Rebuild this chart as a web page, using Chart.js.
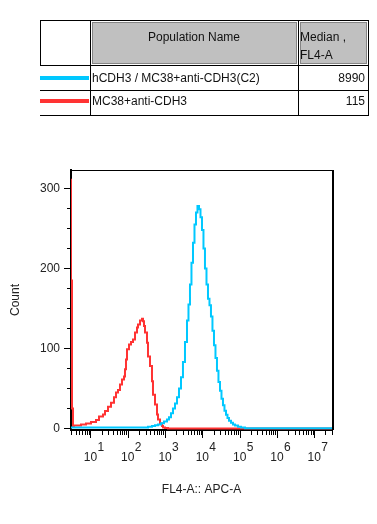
<!DOCTYPE html>
<html>
<head>
<meta charset="utf-8">
<script src="https://cdn.jsdelivr.net/npm/chart.js@4/dist/chart.umd.min.js"></script>
<style>
  html, body { margin: 0; padding: 0; background: #fff; }
  body { width: 377px; height: 524px; position: relative; overflow: hidden;
         font-family: "Liberation Sans", Arial, sans-serif; color: #111; }
  #hist { position: absolute; left: 0; top: 0; }
  .ln { position: absolute; background: #000; }
  .hdr { position: absolute; background: #c0c0c0; border: 1px solid #858585; box-sizing: border-box; }
  .txt { position: absolute; font-size: 12px; line-height: 14px; white-space: nowrap; }
  .sw { position: absolute; height: 4px; }
</style>
</head>
<body>
<canvas id="hist" width="377" height="524"></canvas>

<!-- population table -->
<div class="hdr" style="left:92px;top:22px;width:205px;height:42px"></div>
<div class="hdr" style="left:300px;top:22px;width:67px;height:42px"></div>
<div class="ln" style="left:40px;top:20px;width:329px;height:1px"></div>
<div class="ln" style="left:40px;top:65px;width:329px;height:1px"></div>
<div class="ln" style="left:40px;top:90px;width:329px;height:1px"></div>
<div class="ln" style="left:40px;top:115px;width:329px;height:1px"></div>
<div class="ln" style="left:40px;top:20px;width:1px;height:46px"></div>
<div class="ln" style="left:90px;top:20px;width:1px;height:96px"></div>
<div class="ln" style="left:298px;top:20px;width:1px;height:96px"></div>
<div class="ln" style="left:368px;top:20px;width:1px;height:96px"></div>
<div id="rows"></div>

<script>
// populations (table + histogram order)
const popNames = ['hCDH3 / MC38+anti-CDH3(C2)', 'MC38+anti-CDH3'];
const popMedians = ['8990', '115'];
const popColors = ['#00c8ff', '#ff3333'];

// histogram channels, as log10(FL4-A), with event counts
const blueExp = [0.46, 2.542, 2.649, 2.730, 2.810, 2.891, 2.971, 3.051, 3.105, 3.159, 3.212, 3.266, 3.320, 3.373,
  3.427, 3.480, 3.534, 3.588, 3.628, 3.668, 3.708, 3.749, 3.789, 3.829, 3.869, 3.910, 3.950, 3.990, 4.030, 4.070,
  4.111, 4.151, 4.191, 4.231, 4.271, 4.312, 4.352, 4.392, 4.432, 4.473, 4.513, 4.553, 4.593, 4.634, 4.674, 4.714,
  4.768, 4.821, 4.875, 4.955, 5.036, 5.143, 5.492, 7.48];
const blueCount = [0.3, 1, 2, 3, 4, 5, 6.5, 8.5, 11, 14, 19, 25, 31, 39,
  50, 64, 83, 108, 135, 155, 180, 207, 232, 255, 270, 278, 274, 264, 248, 225,
  200, 180, 162, 154, 140, 122, 104, 88, 72, 58, 47, 37, 29, 22, 17, 13,
  9.5, 7, 5, 3.5, 2, 1, 0.3, 0.3];

const redExp = [0.46, 0.477, 0.504, 0.531, 0.557, 0.745, 0.879, 1.013, 1.148, 1.228, 1.335, 1.389, 1.469, 1.550,
  1.630, 1.684, 1.738, 1.791, 1.845, 1.898, 1.925, 1.952, 1.979, 2.033, 2.086, 2.140, 2.194, 2.247, 2.274, 2.328,
  2.381, 2.408, 2.435, 2.462, 2.515, 2.542, 2.596, 2.649, 2.676, 2.730, 2.784, 2.810, 2.864, 2.918, 2.944, 2.998,
  3.079, 5.144, 7.48];
const redCount = [0, 312, 185, 25, 2.5, 3.7, 5, 6.2, 8, 10.4, 15, 17.5, 21.6, 27,
  32, 39, 45, 48, 55, 61, 65, 74, 86, 99, 105, 108, 111, 120, 126, 130,
  135, 137, 134, 128, 120, 107, 90, 78, 59, 42, 30, 17.5, 11, 6, 3, 1,
  0.6, 0, 0];

// axes
const yTicks = [0, 100, 200, 300];
const yMinorStep = 25;
const decades = [1, 2, 3, 4, 5, 6, 7];

const FONT = '"Liberation Sans", Arial, sans-serif';
const INK = '#222';

// table rows
const rows = document.getElementById('rows');
popNames.forEach((name, i) => {
  const top = 71 + i * 23;
  rows.insertAdjacentHTML('beforeend',
    `<div class="sw" style="left:40px;width:49px;top:${76 + i * 23}px;background:${popColors[i]}"></div>` +
    `<div class="txt" style="left:92px;top:${top}px">${name}</div>` +
    `<div class="txt" style="left:298px;width:67px;text-align:right;top:${top}px">${popMedians[i]}</div>`);
});
rows.insertAdjacentHTML('beforeend',
  '<div class="txt" style="left:90px;width:208px;text-align:center;top:30px">Population Name</div>' +
  '<div class="txt" style="left:300px;top:28px;line-height:18px">Median ,<br>FL4-A</div>');

const toPoints = (ex, cnt) => ex.map((e, i) => ({x: 10 ** e, y: cnt[i]}));

// ticks, exponent labels and the thin top/right frame
const frame = {
  id: 'frame',
  afterDraw(chart) {
    const {ctx, chartArea: a, scales: {x, y}} = chart;
    ctx.save();
    ctx.strokeStyle = '#000';
    ctx.lineWidth = 1;
    ctx.beginPath();
    ctx.moveTo(a.left, a.top + 0.5);
    ctx.lineTo(a.right + 2, a.top + 0.5);
    ctx.stroke();
    ctx.lineWidth = 2;
    ctx.beginPath();
    ctx.moveTo(a.right + 1, a.top);
    ctx.lineTo(a.right + 1, a.bottom);
    ctx.stroke();

    ctx.lineWidth = 1;
    ctx.beginPath();
    for (let v = 0; v <= y.max; v += yMinorStep) {
      const py = Math.round(y.getPixelForValue(v)) + 0.5;
      const len = v % 100 === 0 ? 6 : 3;
      ctx.moveTo(a.left - 1, py);
      ctx.lineTo(a.left - 1 - len, py);
    }
    for (let n = 0; n <= 7; n++) {
      for (let k = 1; k <= 9; k++) {
        const v = k * 10 ** n;
        if (v < x.min || v > x.max) continue;
        const px = Math.round(x.getPixelForValue(v)) + 0.5;
        const len = k === 1 ? 7 : 4;
        ctx.moveTo(px, a.bottom + 1);
        ctx.lineTo(px, a.bottom + 1 + len);
      }
    }
    ctx.stroke();

    ctx.fillStyle = INK;
    ctx.font = '12px ' + FONT;
    decades.forEach(n => {
      const px = x.getPixelForValue(10 ** n);
      ctx.textAlign = 'center';
      ctx.fillText('10', px, a.bottom + 31);
      ctx.textAlign = 'left';
      ctx.fillText(String(n), px + 7, a.bottom + 21);
    });
    ctx.restore();
  }
};

new Chart(document.getElementById('hist'), {
  type: 'line',
  data: {
    datasets: [
      {
        label: popNames[0],
        data: toPoints(blueExp, blueCount),
        borderColor: popColors[0],
        borderWidth: 2,
        pointRadius: 0,
        stepped: 'after',
        fill: false
      },
      {
        label: popNames[1],
        data: toPoints(redExp, redCount),
        borderColor: popColors[1],
        borderWidth: 2,
        pointRadius: 0,
        stepped: 'after',
        fill: false
      }
    ]
  },
  options: {
    responsive: false,
    devicePixelRatio: 1,
    animation: false,
    layout: { padding: { left: 4, top: 170, right: 45, bottom: 23 }, autoPadding: false },
    plugins: { legend: { display: false }, tooltip: { enabled: false } },
    scales: {
      x: {
        type: 'logarithmic',
        min: 3,
        max: 3e7,
        ticks: { display: false },
        grid: { display: false, drawTicks: false },
        border: { display: true, color: '#000', width: 2 },
        title: { display: true, text: 'FL4-A:: APC-A', color: INK, font: { size: 12, family: FONT } },
        afterFit(s) { s.height = 71; }
      },
      y: {
        min: -2,
        max: 323,
        afterBuildTicks(s) { s.ticks = yTicks.map(v => ({value: v})); },
        ticks: { color: INK, padding: 11, font: { size: 12, family: FONT } },
        grid: { display: false, drawTicks: false },
        border: { display: true, color: '#000', width: 2 },
        title: { display: true, text: 'Count', color: INK, font: { size: 12, family: FONT } },
        afterFit(s) { s.width = 67; }
      }
    }
  },
  plugins: [frame]
});
</script>
</body>
</html>
